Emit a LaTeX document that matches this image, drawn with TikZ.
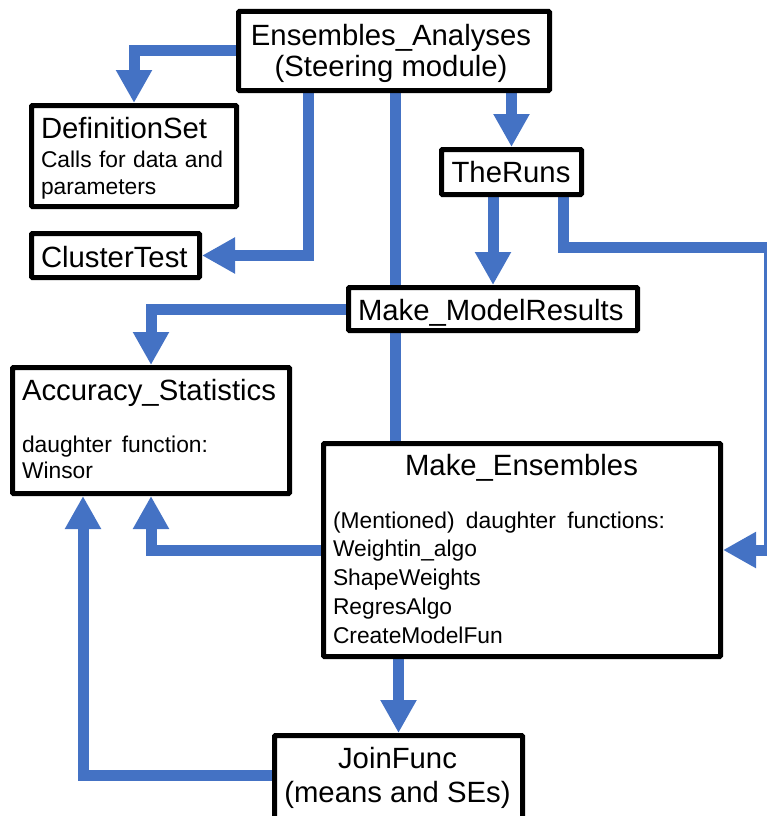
\documentclass[tikz,border=0pt]{standalone}
\usepackage{fontspec}
\setmainfont{Liberation Sans}
\usetikzlibrary{arrows.meta,backgrounds}
\definecolor{cblue}{HTML}{4472C4}
\tikzset{
  box/.style={draw=black, line width=5pt, fill=white, inner sep=0pt, rounded corners=1pt},
  conn/.style={draw=cblue, line width=11pt},
  arr/.style={conn, -{Triangle[width=34pt,length=33pt]}},
  big/.style={font=\fontsize{29.3}{32}\selectfont, inner sep=0pt, outer sep=0pt},
  small/.style={font=\fontsize{22.8}{28.75}\selectfont, inner sep=0pt, outer sep=0pt},
}
\begin{document}
\begin{tikzpicture}[x=1pt,y=-1pt]
\path[use as bounding box] (0,0) rectangle (767,816);
% boxes
\node[box, minimum width=311pt, minimum height=79pt] (ea) at (394,51) {};
\node[box, minimum width=205pt, minimum height=101pt] (ds) at (134,156) {};
\node[box, minimum width=168pt, minimum height=44pt] (ct) at (115.5,255.5) {};
\node[box, minimum width=140pt, minimum height=45pt] (tr) at (511.5,172) {};
\node[box, minimum width=289pt, minimum height=43pt] (mmr) at (493,309) {};
\node[box, minimum width=277pt, minimum height=126pt] (acc) at (151,430.5) {};
\node[box, minimum width=397pt, minimum height=213pt] (me) at (522,550) {};
\node[box, minimum width=248pt, minimum height=89pt] (jf) at (398.5,780) {};
\coordinate (edgeT) at (769,247);
% texts (multi-line nodes: base anchor is the last line's baseline)
\node[big, align=center, anchor=base] (eat) at (391,77) {Ensembles\_Analyses\\(Steering module)};
\node[big, anchor=base west] (dst) at (41,138) {DefinitionSet};
\node[small, align=left, anchor=base west, font=\fontsize{22.8}{27}\selectfont] (dss) at (41,194) {\makebox[182pt][s]{Calls for data and}\\parameters};
\node[big, anchor=base west] (ctt) at (41,267) {ClusterTest};
\node[big, anchor=base] (trt) at (511,182) {TheRuns};
\node[big, anchor=base west] (mmrt) at (358,320) {Make\_ModelResults};
\node[big, anchor=base west] (acct) at (22,400) {Accuracy\_Statistics};
\node[small, align=left, anchor=base west, font=\fontsize{22.8}{26}\selectfont] (accs) at (22,478) {\makebox[186pt][s]{daughter function:}\\Winsor};
\node[big, anchor=base] (met) at (521.5,475) {Make\_Ensembles};
\node[small, align=left, anchor=base west] (mes) at (333,643) {\makebox[332pt][s]{(Mentioned) daughter functions:}\\Weightin\_algo\\ShapeWeights\\RegresAlgo\\CreateModelFun};
\node[big, align=center, anchor=base, font=\fontsize{29.3}{34}\selectfont] (jft) at (397.5,802) {JoinFunc\\(means and SEs)};
% connectors
\begin{scope}[on background layer]
\draw[arr] (ea.west) -| (ds.north);
\draw[arr] ([xshift=-86pt]ea.south) |- (ct.east);
\draw[conn] ([xshift=1pt]ea.south) -- ([xshift=1pt]ea.south |- me.north);
\draw[arr] (ea.south -| tr.north) -- (tr.north);
\draw[arr] (tr.south -| mmr.north) -- (mmr.north);
\draw[arr] ([xshift=51.5pt]tr.south) |- (edgeT) |- (me.east);
\draw[arr] (mmr.west) -| (acc.north);
\draw[arr] (me.west) -| (acc.south);
\draw[arr] (me.south -| jf.north) -- (jf.north);
\draw[arr] ([yshift=5pt]jf.west) -| ([xshift=-68pt]acc.south);
\end{scope}
\end{tikzpicture}
\end{document}
